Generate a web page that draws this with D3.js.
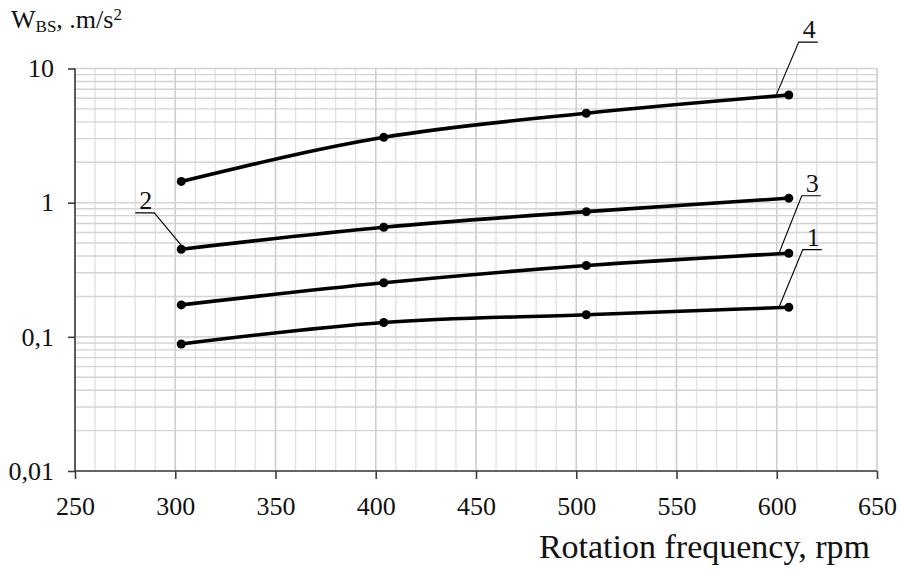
<!DOCTYPE html>
<html>
<head>
<meta charset="utf-8">
<script src="https://cdn.jsdelivr.net/npm/d3@7/dist/d3.min.js"></script>
<style>
  html, body { margin: 0; padding: 0; background: #fff; }
  svg { display: block; }
  svg text { font-family: "Liberation Serif", "Times New Roman", serif !important; }
</style>
</head>
<body>
<svg id="chart" width="900" height="576"></svg>
<script>
// ---- data ----
const rpm = [303, 404, 505, 606];
const series1 = [0.0885, 0.128, 0.146, 0.166];
const series2 = [0.45, 0.656, 0.857, 1.08];
const series3 = [0.173, 0.253, 0.34, 0.42];
const series4 = [1.44, 3.07, 4.64, 6.35];
const seriesNames = ["1", "2", "3", "4"];
const xTicks = [250, 300, 350, 400, 450, 500, 550, 600, 650];
const yTicks = [0.01, 0.1, 1, 10];
const yTickLabels = ["0,01", "0,1", "1", "10"];
const xTitle = "Rotation frequency, rpm";
// label anchor rpm on each curve and label offsets (px)
const labelAnchorRpm = [601, 304.5, 601, 599.5];
const labelOffsets = [[24, -58], [-30, -36], [23, -58], [23, -54]];

const svg = d3.select("#chart");
const x = d3.scaleLinear().domain([250, 650]).range([75, 877]);
const y = d3.scaleLog().domain([0.01, 10]).range([471, 68.5]);

// grid
const g = svg.append("g");
d3.range(250, 651, 10).forEach(v => {
  const major = v % 50 === 0;
  g.append("line").attr("x1", x(v)).attr("x2", x(v)).attr("y1", y(10)).attr("y2", y(0.01))
    .attr("stroke", major ? "#cdcdcd" : "#e2e2e2").attr("stroke-width", major ? 1.6 : 1.4);
});
const hVals = [];
[0.01, 0.1, 1].forEach(d => { for (let k = 1; k <= 10; k++) hVals.push(d * k); });
hVals.forEach(v => {
  g.append("line").attr("x1", x(250)).attr("x2", x(650)).attr("y1", y(v)).attr("y2", y(v))
    .attr("stroke", "#d4d4d4").attr("stroke-width", 1.4);
});

// axes
const xAxis = d3.axisBottom(x).tickValues(xTicks).tickSize(8).tickFormat(d3.format("d"));
const gx = svg.append("g").attr("transform", `translate(0,${y(0.01)})`).call(xAxis);
gx.select(".domain").attr("stroke", "#3c3c3c").attr("stroke-width", 1.6).attr("d", `M${x(250)},0H${x(650)}`);
gx.selectAll(".tick line").attr("stroke", "#3c3c3c").attr("stroke-width", 1.6);
gx.selectAll(".tick text").attr("font-size", 26).attr("fill", "#111").attr("dy", 0).attr("y", 44);

const yAxis = d3.axisLeft(y).tickValues(yTicks).tickSize(7).tickFormat((d, i) => yTickLabels[i]);
const gy = svg.append("g").attr("transform", `translate(${x(250)},0)`).call(yAxis);
gy.select(".domain").attr("stroke", "#3c3c3c").attr("stroke-width", 1.6).attr("d", `M0,${y(10)}V${y(0.01)}`);
gy.selectAll(".tick line").attr("stroke", "#3c3c3c").attr("stroke-width", 1.6);
gy.selectAll(".tick text").attr("font-size", 26).attr("fill", "#111").attr("x", -21).attr("dy", "0.32em");

// series
const allSeries = [series1, series2, series3, series4];
const line = d3.line().x(d => x(d[0])).y(d => y(d[1])).curve(d3.curveMonotoneX);
allSeries.forEach(s => {
  const pts = rpm.map((r, i) => [r, s[i]]);
  svg.append("path").attr("d", line(pts)).attr("fill", "none").attr("stroke", "#000").attr("stroke-width", 3.6);
  svg.selectAll(null).data(pts).enter().append("circle")
    .attr("cx", d => x(d[0])).attr("cy", d => y(d[1])).attr("r", 4.5).attr("fill", "#000");
});

// labels with leader lines
allSeries.forEach((s, i) => {
  const r = labelAnchorRpm[i];
  let j = 0;
  while (j < rpm.length - 2 && r > rpm[j + 1]) j++;
  const t = (r - rpm[j]) / (rpm[j + 1] - rpm[j]);
  const v = Math.exp(Math.log(s[j]) + t * (Math.log(s[j + 1]) - Math.log(s[j])));
  const ax = x(r), ay = y(v);
  const [dx, dy] = labelOffsets[i];
  const ex = ax + dx, ey = ay + dy;
  const w = 19;
  const ux = dx > 0 ? ex + w : ex - w;
  svg.append("path").attr("d", `M${ax},${ay}L${ex},${ey}L${ux},${ey}`)
    .attr("fill", "none").attr("stroke", "#000").attr("stroke-width", 1.1);
  svg.append("text").attr("x", (ex + ux) / 2 + 1).attr("y", ey - 4)
    .attr("text-anchor", "middle").attr("font-size", 26).attr("fill", "#111")
    .text(seriesNames[i]);
});

// titles
svg.append("text").attr("x", 870).attr("y", 558).attr("text-anchor", "end")
  .attr("font-size", 34).attr("fill", "#111").text(xTitle);

const yt = svg.append("text").attr("x", 11).attr("y", 28).attr("font-size", 26).attr("fill", "#111");
yt.append("tspan").text("W");
yt.append("tspan").attr("font-size", 17).attr("dy", 4).text("BS");
yt.append("tspan").attr("dy", -4).text(", .m/s");
yt.append("tspan").attr("font-size", 17).attr("dy", -8).text("2");
</script>
</body>
</html>
